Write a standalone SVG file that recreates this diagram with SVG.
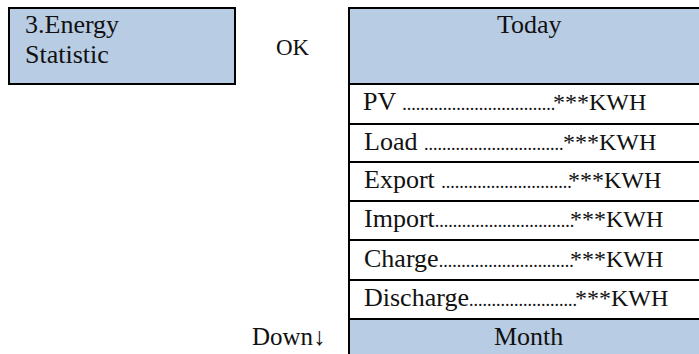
<svg xmlns="http://www.w3.org/2000/svg" width="699" height="354" viewBox="0 0 699 354">
<style>
text{font-family:"Liberation Serif","DejaVu Serif",serif;font-size:26px;fill:#111}
.d{font-size:18px}
.k{font-size:24px}
.box{fill:#b8cce4;stroke:#000;stroke-width:2}
.ln{stroke:#000;stroke-width:2;fill:none}
.hd{fill:#b8cce4}
</style>
<rect width="699" height="354" fill="#fff"/>
<g id="menu-item">
<rect class="box" x="9" y="8" width="226" height="76"/>
<text x="25" y="33">3.Energy</text>
<text x="25" y="63">Statistic</text>
</g>
<g id="connectors">
<text id="ok-label" x="276" y="55" style="font-size:23px">OK</text>
<text id="down-label" x="252" y="345" style="font-size:25px">Down↓</text>
</g>
<g id="today-table">
<rect class="hd" x="349" y="8" width="350" height="76"/>
<rect class="hd" x="349" y="319" width="350" height="35"/>
<line class="ln" x1="349" y1="8" x2="699" y2="8"/>
<line class="ln" x1="349" y1="7" x2="349" y2="354"/>
<line class="ln" x1="349" y1="84" x2="699" y2="84"/>
<line class="ln" x1="349" y1="124" x2="699" y2="124"/>
<line class="ln" x1="349" y1="162" x2="699" y2="162"/>
<line class="ln" x1="349" y1="201" x2="699" y2="201"/>
<line class="ln" x1="349" y1="240" x2="699" y2="240"/>
<line class="ln" x1="349" y1="280" x2="699" y2="280"/>
<line class="ln" x1="349" y1="319" x2="699" y2="319"/>
<text x="497" y="33">Today</text>
<text y="110"><tspan x="363">PV </tspan><tspan class="d">..................................</tspan><tspan class="k" x="553">***KWH</tspan></text>
<text y="150"><tspan x="364">Load </tspan><tspan class="d">...............................</tspan><tspan class="k" x="563">***KWH</tspan></text>
<text y="188"><tspan x="364">Export </tspan><tspan class="d">.............................</tspan><tspan class="k" x="568">***KWH</tspan></text>
<text y="227"><tspan x="364">Import</tspan><tspan class="d">...............................</tspan><tspan class="k" x="570">***KWH</tspan></text>
<text y="267"><tspan x="364">Charge</tspan><tspan class="d">..............................</tspan><tspan class="k" x="570">***KWH</tspan></text>
<text y="306"><tspan x="364">Discharge</tspan><tspan class="d">........................</tspan><tspan class="k" x="575">***KWH</tspan></text>
<text x="494" y="345">Month</text>
</g>
</svg>
